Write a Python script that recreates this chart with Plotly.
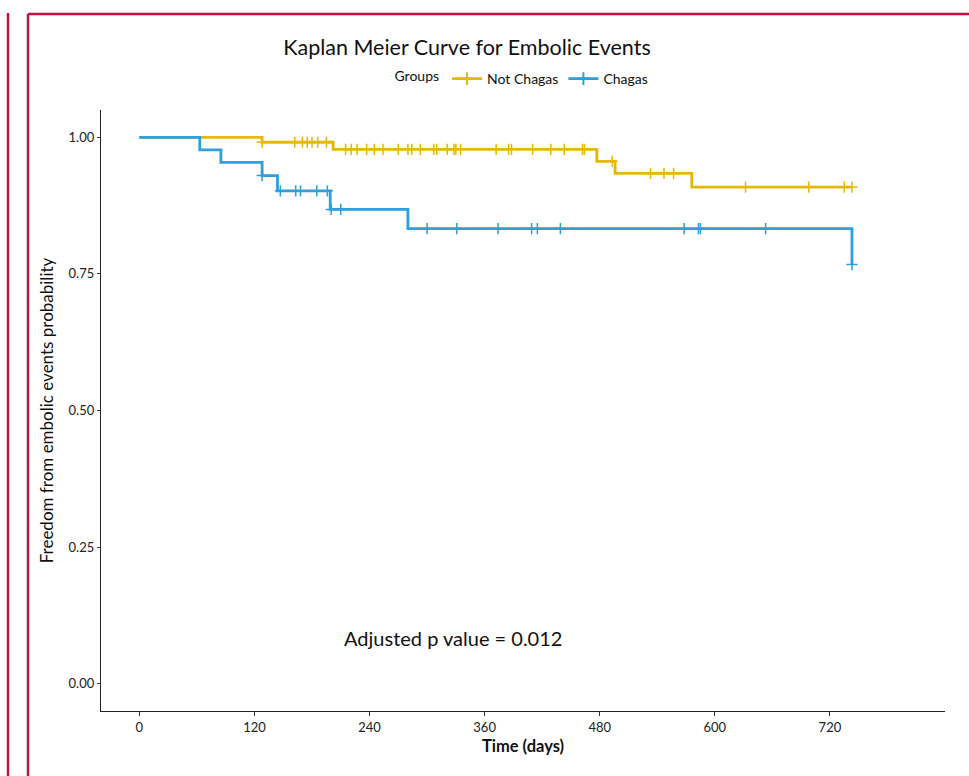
import plotly.graph_objects as go
import numpy as np

# ---- data ----
groups = ["Not Chagas", "Chagas"]
colors = ["#E7B800", "#2E9FDF"]

# step (event) times and survival levels after each step
nc_times = [0, 128, 202, 477, 496, 576, 743]
nc_surv = [1.000, 0.991, 0.978, 0.956, 0.934, 0.909, 0.909]
nc_censor = [128, 162, 170, 175, 180, 186, 195, 215, 221, 227, 237, 245, 254,
             270, 280, 284, 293, 307, 310, 321, 328, 330, 335, 372, 385, 388,
             410, 429, 443, 462, 464, 493, 533, 547, 557, 632, 698, 735, 743]

ch_times = [0, 63, 85, 128, 144, 199, 280, 743]
ch_surv = [1.000, 0.977, 0.954, 0.930, 0.902, 0.868, 0.833, 0.767]
ch_censor = [128, 147, 163, 168, 185, 196, 200, 210, 300, 331, 374, 409, 415,
             439, 568, 583, 585, 653, 743]

x_ticks = [0, 120, 240, 360, 480, 600, 720]
y_ticks = [0.00, 0.25, 0.50, 0.75, 1.00]
p_text = "Adjusted p value = 0.012"

FONT = "Lato"


def level_at(times, surv, t):
    idx = np.searchsorted(np.array(times), t, side="right") - 1
    return surv[max(idx, 0)]


fig = go.Figure()
series = [(nc_times, nc_surv, nc_censor), (ch_times, ch_surv, ch_censor)]
for name, col, (tt, ss, cc) in zip(groups, colors, series):
    fig.add_trace(go.Scatter(x=tt, y=ss, mode="lines", line=dict(color=col, width=2.8, shape="hv"),
                             showlegend=False, hoverinfo="skip"))
    fig.add_trace(go.Scatter(x=cc, y=[level_at(tt, ss, c) for c in cc], mode="markers",
                             marker=dict(symbol="cross-thin", size=8, line=dict(color=col, width=1.5)),
                             showlegend=False))
    fig.add_trace(go.Scatter(x=[None], y=[None], mode="lines+markers", name=name,
                             line=dict(color=col, width=2.6),
                             marker=dict(symbol="cross-thin", size=9, line=dict(color=col, width=2))))

fig.add_annotation(x=327, y=0.083, xref="x", yref="y", text=p_text, showarrow=False,
                   font=dict(family=FONT, size=20, color="#111"))

# journal frame
frame = "#C4123F"
X0, X1, Y0, Y1 = 101, 945, 110, 711
px = lambda p: (p - X0) / (X1 - X0)
py = lambda p: (Y1 - p) / (Y1 - Y0)
fig.add_shape(type="line", xref="paper", yref="paper", x0=px(8), x1=px(8), y0=py(13), y1=py(800),
              line=dict(color=frame, width=2.5))
fig.add_shape(type="line", xref="paper", yref="paper", x0=px(28), x1=px(28), y0=py(14), y1=py(800),
              line=dict(color=frame, width=2.5))
fig.add_shape(type="line", xref="paper", yref="paper", x0=px(28), x1=px(1000), y0=py(14), y1=py(14),
              line=dict(color=frame, width=2.5))

fig.update_layout(
    width=969, height=776,
    margin=dict(l=X0, r=969 - X1, t=Y0, b=776 - Y1),
    paper_bgcolor="white", plot_bgcolor="white",
    font=dict(family=FONT, color="#111"),
    title=dict(text="Kaplan Meier Curve for Embolic Events", x=467 / 969, xref="container", xanchor="center",
               y=1 - 47 / 776, yref="container", yanchor="middle", font=dict(size=21.5, family=FONT, color="#111")),
    legend=dict(orientation="h", x=0.5, xanchor="center", y=py(79), yanchor="middle",
                title=dict(text="Groups", side="left", font=dict(size=14)),
                font=dict(size=14, family=FONT), itemwidth=30, bgcolor="rgba(0,0,0,0)",
                tracegroupgap=0),
    xaxis=dict(range=[-40, 840], tickvals=x_ticks, ticktext=[str(v) for v in x_ticks],
               showgrid=False, zeroline=False, showline=True, linecolor="#222", linewidth=1.3,
               ticks="outside", ticklen=4, tickcolor="#333", tickfont=dict(size=13, color="#222"),
               title=dict(text="<b>Time (days)</b>", font=dict(size=16.5, color="#111"), standoff=6)),
    yaxis=dict(range=[-0.05, 1.05], tickvals=y_ticks, ticktext=[f"{v:.2f}" for v in y_ticks],
               showgrid=False, zeroline=False, showline=True, linecolor="#222", linewidth=1.3,
               ticks="outside", ticklen=3, tickcolor="#333", tickfont=dict(size=13, color="#222"),
               title=dict(text="Freedom from embolic events probability", font=dict(size=17, color="#111"),
                          standoff=10)),
)

fig.write_html("out.html")
